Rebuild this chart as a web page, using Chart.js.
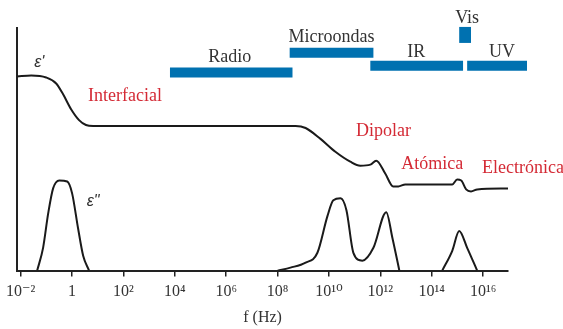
<!DOCTYPE html>
<html>
<head>
<meta charset="utf-8">
<script src="https://cdn.jsdelivr.net/npm/chart.js@4.4.1/dist/chart.umd.min.js"></script>
<style>
  html, body { margin: 0; padding: 0; background: #fff; }
  #wrap { width: 563px; height: 329px; }
</style>
</head>
<body>
<div id="wrap"><canvas id="chart"></canvas></div>
<script>
// x values are log10(f), y values are arbitrary heights above the baseline

// epsilon' (real part)
const realX = [-2.14, -1.59, -1.01, -0.62, -0.35, -0.04, 0.27, 0.54, 0.82, 8.70, 9.09, 9.67, 10.25, 10.83, 11.22, 11.61, 11.84, 12.19, 12.50, 12.70, 12.97, 14.80, 14.99, 15.15, 15.34, 15.53, 15.77, 16.97];
const realY = [196, 197, 195, 189, 178, 163, 152, 147, 146, 146, 144, 133, 120, 110, 106, 107, 111, 98, 85, 85, 87, 87, 92, 91, 82, 80, 82, 83];

// epsilon'' (loss peaks), null breaks the curve
const lossX = [-1.36, -1.13, -0.93, -0.74, -0.50, -0.19, 0, 0.23, 0.43, 0.66, 1,
  8.00, 8.50, 9.09, 9.55, 9.94, 10.17, 10.45, 10.68, 10.95, 11.30, 11.73, 12.23, 12.47, 12.74, 13,
  14.41, 14.80, 15.07, 15.38, 15.77];
const lossY = [0, 23, 58, 83, 91, 90, 78, 43, 15, 0, null,
  0, 3, 8, 18, 55, 71, 73, 61, 18, 10, 23, 59, 33, 0, null,
  0, 20, 40, 23, 0];

// spectral bands: name, start, end (log10 f), level
const bandNames = ['Radio', 'Microondas', 'IR', 'Vis', 'UV'];
const bandStart = [3.81, 8.47, 11.61, 15.07, 15.38];
const bandEnd = [8.58, 11.73, 15.22, 15.53, 17.71];
const bandLevel = [200, 220, 207, 238, 207];

const xTicks = [-2, 0, 2, 4, 6, 8, 10, 12, 14, 16];

const sup = { '-': '⁻', '0': '⁰', '1': '¹', '2': '²', '3': '³', '4': '⁴', '5': '⁵', '6': '⁶', '7': '⁷', '8': '⁸', '9': '⁹' };
function powLabel(v) {
  if (v === 0) return '1';
  return '10' + String(v).split('').map(c => sup[c]).join('');
}

const serif = '"Liberation Serif", "DejaVu Serif", serif';
const red = '#d42a35';
const ink = '#333333';

// text placed on the chart (data coordinates)
const notes = [
  { text: "ε'", x: -1.28, y: 210, color: ink, font: 'italic 16px "Liberation Sans", sans-serif' },
  { text: 'ε"', x: 0.82, y: 70, color: ink, font: 'italic 16px "Liberation Sans", sans-serif' },
  { text: 'Interfacial', x: 2.06, y: 176, color: red },
  { text: 'Radio', x: 6.14, y: 215, color: ink },
  { text: 'Microondas', x: 10.10, y: 236, color: ink },
  { text: 'IR', x: 13.40, y: 220, color: ink },
  { text: 'Vis', x: 15.38, y: 255, color: ink },
  { text: 'UV', x: 16.74, y: 220, color: ink },
  { text: 'Dipolar', x: 12.12, y: 141, color: red },
  { text: 'Atómica', x: 14.02, y: 107, color: red },
  { text: 'Electrónica', x: 15.96, y: 103, color: red, align: 'left' }
];

const notesPlugin = {
  id: 'notes',
  afterDatasetsDraw(chart) {
    const ctx = chart.ctx;
    const xs = chart.scales.x, ys = chart.scales.y;
    ctx.save();
    notes.forEach(n => {
      ctx.font = n.font || '18px ' + serif;
      ctx.fillStyle = n.color;
      ctx.textAlign = n.align || 'center';
      ctx.textBaseline = 'middle';
      ctx.fillText(n.text, xs.getPixelForValue(n.x), ys.getPixelForValue(n.y));
    });
    ctx.restore();
  }
};

const bandSets = bandNames.map((name, i) => ({
  label: name,
  data: [{ x: bandStart[i], y: bandLevel[i] }, { x: bandEnd[i], y: bandLevel[i] }],
  borderColor: '#0071b0',
  borderWidth: name === 'Vis' ? 16 : 10,
  borderCapStyle: 'butt',
  pointRadius: 0,
  clip: false
}));

new Chart(document.getElementById('chart'), {
  type: 'line',
  data: {
    datasets: [
      {
        label: "ε'",
        data: realX.map((x, i) => ({ x: x, y: realY[i] })),
        borderColor: '#1a1a1a',
        borderWidth: 2,
        pointRadius: 0,
        cubicInterpolationMode: 'monotone'
      },
      {
        label: 'ε"',
        data: lossX.map((x, i) => ({ x: x, y: lossY[i] })),
        borderColor: '#1a1a1a',
        borderWidth: 2,
        pointRadius: 0,
        spanGaps: false,
        cubicInterpolationMode: 'monotone'
      },
      ...bandSets
    ]
  },
  options: {
    responsive: true,
    maintainAspectRatio: false,
    animation: false,
    layout: { padding: { top: 28, right: 55, left: 8, bottom: 2 } },
    plugins: { legend: { display: false }, tooltip: { enabled: false } },
    scales: {
      x: {
        type: 'linear',
        min: -2.14,
        max: 16.97,
        afterBuildTicks: scale => { scale.ticks = xTicks.map(v => ({ value: v })); },
        grid: { drawOnChartArea: false, drawTicks: true, tickLength: 6, color: '#222', lineWidth: 1.5 },
        border: { display: true, color: '#222', width: 2 },
        ticks: {
          color: ink,
          font: { family: serif, size: 16 },
          padding: 6,
          maxRotation: 0,
          autoSkip: false,
          callback: v => powLabel(v)
        },
        title: { display: true, text: 'f (Hz)', color: ink, font: { family: serif, size: 16 }, padding: { top: 0, bottom: 0 } }
      },
      y: {
        min: 0,
        max: 245,
        grid: { display: false },
        border: { display: true, color: '#222', width: 2 },
        ticks: { display: false }
      }
    }
  },
  plugins: [notesPlugin]
});
</script>
</body>
</html>
